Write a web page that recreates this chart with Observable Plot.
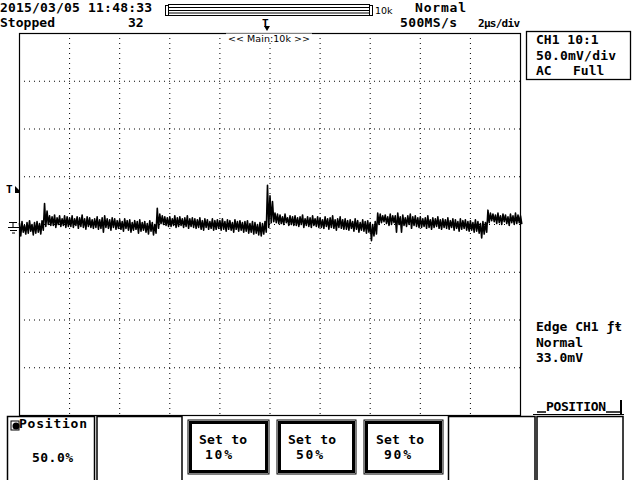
<!DOCTYPE html>
<html>
<head>
<meta charset="utf-8">
<script src="https://cdn.jsdelivr.net/npm/d3@7"></script>
<script src="https://cdn.jsdelivr.net/npm/@observablehq/plot@0.6"></script>
<style>
  html, body { margin: 0; padding: 0; background: #fff; }
  #wrap { position: relative; width: 640px; height: 480px; overflow: hidden; background: #fff; }
  #wrap > svg { position: absolute; left: 0; top: 0; }
  #ui { position: absolute; left: 0; top: 0; pointer-events: none; }
  .b { font-family: "DejaVu Sans Mono", monospace; font-weight: bold; font-size: 13px; fill: #000; }
  .s { font-family: "DejaVu Sans", sans-serif; font-size: 9.5px; fill: #000; }
</style>
</head>
<body>
<div id="wrap"></div>
<script>
// ---- data (read from the screen) ----
// time axis: 2 µs/div, 10 divisions, sample every 0.1 µs
const tStart = -10;
const tStep = 0.1;
// upper / lower envelope of the noisy trace, mV (50 mV/div)
const vHi = [
  1, 3, -1, 2, 4, 0, 2, 3, 1, 4,
  22, 14, 9, 8, 10, 7, 9, 6, 9, 8,
  7, 9, 6, 8, 7, 10, 6, 8, 7, 5,
  6, 8, 5, 7, 9, 6, 5, 7, 6, 4,
  5, 3, 6, 4, 5, 2, 4, 3, 5, 2,
  3, 1, 4, 2, 0, 17, 11, 9, 8, 7,
  8, 6, 9, 7, 8, 6, 7, 9, 6, 7,
  6, 5, 7, 4, 6, 5, 3, 6, 4, 5,
  4, 6, 3, 5, 4, 2, 5, 3, 4, 2,
  3, 4, 1, 3, 2, 0, 2, 1, 3, 41,
  30, 24, 12, 11, 10, 8, 11, 7, 9, 8,
  9, 7, 8, 10, 6, 8, 7, 9, 6, 8,
  7, 5, 8, 6, 7, 9, 5, 6, 8, 5,
  6, 4, 5, 3, 6, 4, 2, 5, 3, 4,
  2, 0, 3, 12, 11, 9, 10, 8, 11, 9,
  9, 12, 8, 10, 7, 9, 11, 8, 9, 7,
  8, 6, 7, 9, 5, 7, 6, 8, 5, 6,
  5, 7, 4, 6, 5, 3, 6, 4, 5, 3,
  4, 2, 5, 3, 1, 3, 2, 15, 12, 11,
  10, 12, 9, 11, 10, 8, 11, 9, 12, 10,
  9
];
const vLo = [
  -12, -8, -10, -9, -7, -11, -9, -8, -10, -6,
  -2, 0, -1, -1, -3, 0, -2, -1, -3, -2,
  -2, -3, -1, -4, -2, -3, -5, -2, -3, -4,
  -3, -5, -4, -8, -3, -4, -6, -3, -5, -4,
  -5, -7, -4, -6, -8, -6, -5, -9, -7, -6,
  -8, -10, -7, -11, -9, -4, 1, 0, -1, -2,
  -2, -1, -3, -2, -1, -3, -2, -4, -2, -3,
  -4, -3, -5, -6, -3, -5, -4, -6, -5, -4,
  -6, -5, -7, -5, -6, -8, -5, -7, -6, -8,
  -7, -9, -8, -10, -9, -11, -12, -10, -8, -3,
  2, 3, 2, 1, 1, 0, 2, -1, 0, -1,
  -1, -2, 0, -3, -1, -2, -3, -1, -2, -3,
  -3, -4, -2, -5, -3, -4, -6, -3, -4, -5,
  -5, -6, -4, -7, -5, -8, -6, -7, -9, -8,
  -17, -12, -10, 0, 2, 3, 1, -1, 0, 2,
  -8, 0, -8, -1, -2, 0, -4, -1, -2, -3,
  -3, -2, -4, -3, -5, -3, -2, -4, -5, -3,
  -4, -5, -3, -6, -4, -7, -5, -4, -6, -7,
  -6, -8, -7, -9, -14, -10, -8, 2, 4, 3,
  1, 2, 0, 3, 1, -1, 2, 0, 1, 2,
  1
];
// graticule divisions
const xDivs = [-8, -6, -4, -2, 0, 2, 4, 6, 8];
const yDivs = [-150, -100, -50, 0, 50, 100, 150];

// zig-zag between the two envelopes
const trace = [];
vHi.forEach((h, i) => {
  const t = tStart + i * tStep;
  trace.push({t, v: h});
  trace.push({t: t + tStep / 2, v: vLo[i]});
});

const plot = Plot.plot({
  width: 640,
  height: 480,
  marginLeft: 19,
  marginRight: 120,
  marginTop: 33,
  marginBottom: 65,
  x: {domain: [-10, 10], axis: null},
  y: {domain: [-200, 200], axis: null},
  style: {background: "white"},
  marks: [
    Plot.ruleX(xDivs, {stroke: "#000", strokeWidth: 1, strokeDasharray: "1,4"}),
    Plot.ruleY(yDivs, {stroke: "#000", strokeWidth: 1, strokeDasharray: "1,4"}),
    Plot.line(trace, {x: "t", y: "v", stroke: "#000", strokeWidth: 1.6}),
    Plot.frame({stroke: "#000", strokeWidth: 1.2})
  ]
});
document.getElementById("wrap").appendChild(plot);

// ---- oscilloscope chrome ----
const ui = `
<svg id="ui" width="640" height="480" xmlns="http://www.w3.org/2000/svg">
  <text class="b" x="0" y="12" textLength="152">2015/03/05 11:48:33</text>
  <text class="b" x="0" y="27" textLength="55">Stopped</text>
  <text class="b" x="128" y="27">32</text>
  <text class="b" x="415" y="12" textLength="51">Normal</text>
  <text class="b" x="400" y="27" textLength="57">500MS/s</text>
  <text class="b" x="478" y="27" style="font-size:11px" textLength="42">2µs/div</text>

  <g fill="none" stroke="#000" stroke-width="1">
    <rect x="165.5" y="5.5" width="3" height="10"/>
    <rect x="369.5" y="5.5" width="3" height="10"/>
    <line x1="168" y1="4.5" x2="370" y2="4.5"/>
    <line x1="168" y1="7.5" x2="370" y2="7.5"/>
    <line x1="168" y1="10.5" x2="370" y2="10.5"/>
    <line x1="168" y1="13" x2="370" y2="13"/>
    <line x1="168" y1="15.5" x2="370" y2="15.5"/>
  </g>
  <text class="s" x="375" y="14">10k</text>

  <text class="b" x="262" y="27" style="font-size:11px">T</text>
  <path d="M264 26 L270 26 L267 31 Z" fill="#000"/>

  <rect x="226" y="33.5" width="86" height="9" fill="#fff"/>
  <text class="s" x="228" y="42" textLength="82">&lt;&lt; Main:10k &gt;&gt;</text>

  <!-- left markers -->
  <text class="b" x="6" y="193" style="font-size:11px">T</text>
  <path d="M15 186 L19 190 L19 193 L15 193 Z" fill="#000"/>
  <g stroke="#000" stroke-width="1">
    <line x1="9" y1="222.5" x2="17" y2="222.5"/>
    <line x1="13" y1="222" x2="13" y2="227"/>
    <line x1="8" y1="227.5" x2="19" y2="227.5"/>
    <line x1="10" y1="230.5" x2="17" y2="230.5"/>
    <line x1="12" y1="233" x2="15" y2="233"/>
  </g>

  <!-- channel box -->
  <rect x="526.5" y="31.5" width="104" height="48" fill="none" stroke="#000" stroke-width="1.3"/>
  <text class="b" x="536" y="44">CH1 10:1</text>
  <text class="b" x="536" y="60" textLength="80">50.0mV/div</text>
  <text class="b" x="536" y="75">AC</text>
  <text class="b" x="573" y="75">Full</text>

  <!-- trigger -->
  <text class="b" x="536" y="331">Edge CH1 ƒŧ</text>
  <text class="b" x="536" y="347">Normal</text>
  <text class="b" x="536" y="362">33.0mV</text>

  <!-- menu label -->
  <g stroke="#000" fill="none">
    <line x1="537" y1="412" x2="546" y2="412" stroke-width="1.5"/>
    <line x1="606" y1="412" x2="620" y2="412" stroke-width="1.5"/>
    <line x1="621" y1="400" x2="621" y2="414" stroke-width="2"/>
    <line x1="533" y1="414.5" x2="624" y2="414.5" stroke-width="1"/>
  </g>
  <text class="b" x="546" y="411" textLength="60">POSITION</text>

  <!-- bottom menu -->
  <g fill="none" stroke="#000" stroke-width="1.5">
    <rect x="7.5" y="416.5" width="87" height="70"/>
    <rect x="97" y="416.5" width="85" height="70"/>
    <rect x="448.5" y="416.5" width="86.5" height="70"/>
    <rect x="537" y="416.5" width="86" height="70"/>
  </g>
  <g fill="none" stroke="#000">
    <rect x="188" y="420" width="81" height="54" stroke-width="1"/>
    <rect x="190.5" y="422.5" width="76" height="49" stroke-width="3"/>
    <rect x="277" y="420" width="79" height="54" stroke-width="1"/>
    <rect x="279.5" y="422.5" width="74" height="49" stroke-width="3"/>
    <rect x="364" y="420" width="79" height="54" stroke-width="1"/>
    <rect x="366.5" y="422.5" width="74" height="49" stroke-width="3"/>
  </g>
  <rect x="11" y="421" width="8" height="9" fill="none" stroke="#000" stroke-width="1"/>
  <circle cx="16" cy="426" r="3.5" fill="#000"/>
  <text class="b" x="19" y="428" textLength="68">Position</text>
  <text class="b" x="32" y="462" textLength="41">50.0%</text>
  <text class="b" x="199" y="444" textLength="48">Set to</text>
  <text class="b" x="205" y="459" textLength="27">10%</text>
  <text class="b" x="288" y="444" textLength="48">Set to</text>
  <text class="b" x="296" y="459" textLength="27">50%</text>
  <text class="b" x="376" y="444" textLength="48">Set to</text>
  <text class="b" x="384" y="459" textLength="27">90%</text>
</svg>`;
document.getElementById("wrap").insertAdjacentHTML("beforeend", ui);
</script>
</body>
</html>
